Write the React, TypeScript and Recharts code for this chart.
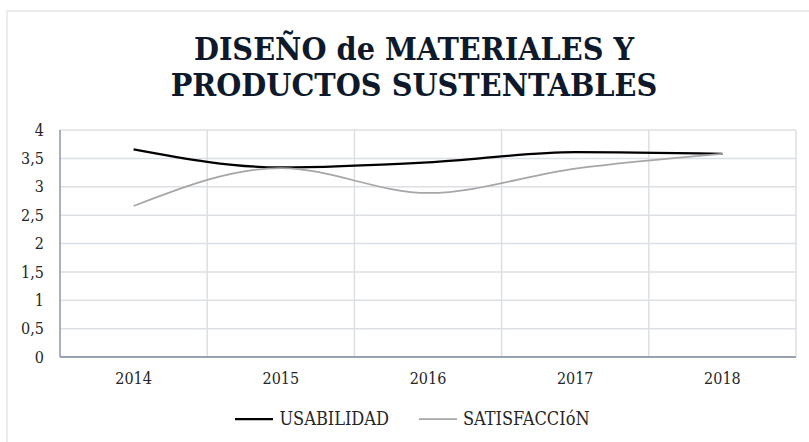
import { LineChart, Line, XAxis, YAxis, CartesianGrid, Legend } from 'recharts';

// años y valores
const years = ['2014', '2015', '2016', '2017', '2018'];
const usabilidad = [3.66, 3.34, 3.43, 3.61, 3.58];
const satisfaccion = [2.66, 3.33, 2.89, 3.32, 3.58];
const yTicks = [0, 0.5, 1, 1.5, 2, 2.5, 3, 3.5, 4];

const data = years.map((year, i) => ({
  year,
  USABILIDAD: usabilidad[i],
  SATISFACCION: satisfaccion[i],
}));

const FONT = '"DejaVu Serif", serif';

const legendItems = [
  { label: 'USABILIDAD', color: '#000000', width: 2.25 },
  { label: 'SATISFACCIóN', color: '#a6a6a6', width: 1.75 },
];

const tickStyle = { fontFamily: FONT, fontSize: 16, fill: '#262626', fontStretch: 'condensed' };

const renderLegend = () => (
  <div
    style={{
      display: 'flex',
      justifyContent: 'center',
      gap: 30,
      fontFamily: FONT,
      fontStretch: 'condensed',
      fontSize: 18,
      color: '#262626',
    }}
  >
    {legendItems.map((item) => (
      <div key={item.label} style={{ display: 'flex', alignItems: 'center' }}>
        <svg width={38} height={10} style={{ marginRight: 6 }}>
          <line x1={0} y1={5} x2={38} y2={5} stroke={item.color} strokeWidth={item.width} />
        </svg>
        <span>{item.label}</span>
      </div>
    ))}
  </div>
);

export default function App() {
  return (
    <div style={{ position: 'absolute', left: 0, top: 0, width: 809, height: 442, background: '#fff', overflow: 'hidden' }}>
      <div
        style={{
          position: 'absolute',
          left: 6,
          top: 10,
          width: 820,
          height: 450,
          border: '2px solid #ececef',
          boxSizing: 'border-box',
        }}
      />
      <div
        style={{
          position: 'absolute',
          left: 0,
          top: 31,
          width: 828,
          textAlign: 'center',
          fontFamily: FONT,
          fontStretch: 'condensed',
          fontWeight: 700,
          fontSize: 32,
          lineHeight: '36px',
          color: '#0e1a2b',
        }}
      >
        DISEÑO de MATERIALES Y
        <br />
        PRODUCTOS SUSTENTABLES
      </div>
      <LineChart
        width={809}
        height={442}
        data={data}
        margin={{ top: 130, right: 13, bottom: 24, left: 0 }}
        style={{ position: 'absolute', left: 0, top: 0 }}
      >
        <CartesianGrid
          stroke="#dcdfe4"
          strokeWidth={1.5}
          verticalCoordinatesGenerator={({ offset }: any) =>
            years.map((_, i) => offset.left + ((i + 1) * offset.width) / years.length)
          }
        />
        <XAxis
          dataKey="year"
          padding={{ left: 73.6, right: 73.6 }}
          tickLine={false}
          axisLine={{ stroke: '#7d8a9c', strokeWidth: 1.5 }}
          tick={tickStyle}
          tickMargin={10}
          height={40}
        />
        <YAxis
          domain={[0, 4]}
          ticks={yTicks}
          interval={0}
          width={60}
          tickLine={false}
          axisLine={{ stroke: '#8a98ac', strokeWidth: 1.5 }}
          tick={tickStyle}
          tickMargin={10}
          tickFormatter={(v: number) => String(v).replace('.', ',')}
        />
        <Legend
          content={renderLegend}
          wrapperStyle={{ position: 'absolute', top: 408, left: 8, width: 809 }}
        />
        <Line
          type="monotone"
          dataKey="USABILIDAD"
          stroke="#000000"
          strokeWidth={2.25}
          dot={false}
          isAnimationActive={false}
        />
        <Line
          type="monotone"
          dataKey="SATISFACCION"
          stroke="#a6a6a6"
          strokeWidth={1.75}
          dot={false}
          isAnimationActive={false}
        />
      </LineChart>
    </div>
  );
}
